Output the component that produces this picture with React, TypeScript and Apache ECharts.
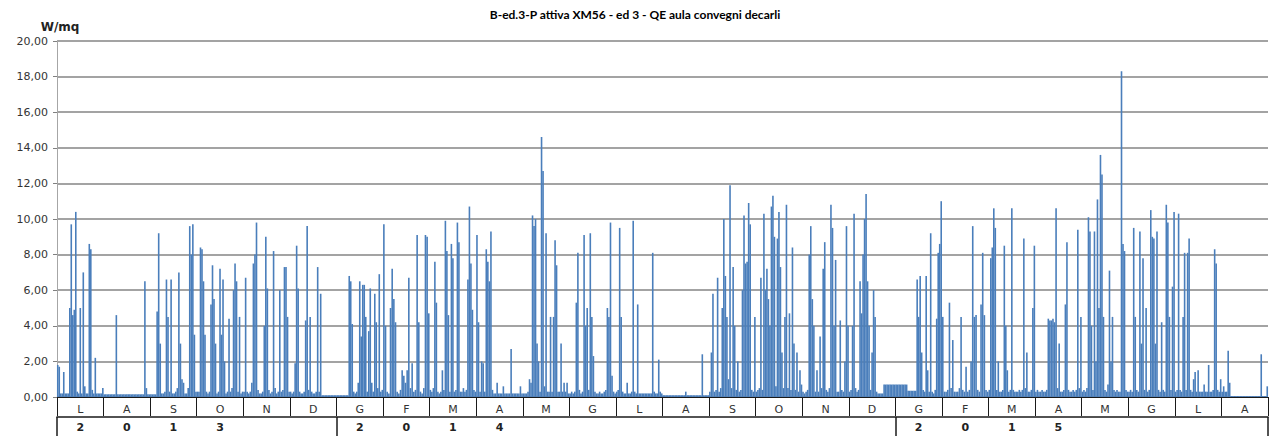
import React, { useEffect, useRef } from "react";
import * as echarts from "echarts";

// Month labels (Jul 2013 .. Aug 2015) and year digits row
const MONTHS = ["L","A","S","O","N","D","G","F","M","A","M","G","L","A","S","O","N","D","G","F","M","A","M","G","L","A"];
const YEAR_DIGITS = ["2","0","1","3","","","2","0","1","4","","","","","","","","","2","0","1","5","","","",""];
const YEAR_STARTS = [0, 6, 18];
const Y_MIN = 0;
const Y_MAX = 20;
const Y_STEP = 2;

// Daily values (W/mq), one array per month
const jul13 = [1.8,1.7,0.2,0.2,1.4,0.2,0.2,0.2,5.0,9.7,4.6,4.9,10.4,0.3,0.2,5.0,0.2,7.0,0.6,0.2,0.2,8.6,8.3,0.4,0.2,2.2,0.2,0.2,0.2,0.2,0.5];
const aug13 = [0.15,0.15,0.15,0.15,0.15,0.15,0.15,0.15,4.6,0.15,0.15,0.15,0.15,0.15,0.15,0.15,0.15,0.15,0.15,0.15,0.15,0.15,0.15,0.15,0.15,0.15,0.15,6.5,0.5,0.15,0.15];
const sep13 = [0.15,0.15,0.15,0.15,4.8,9.2,3.0,0.2,0.2,0.3,6.6,4.5,0.3,6.6,0.2,0.2,0.3,0.5,7.0,3.0,1.0,0.8,0.2,0.2,0.5,9.6,8.0,9.7,3.5,0.3];
const oct13 = [0.3,0.3,8.4,8.3,6.5,3.5,0.3,0.2,0.3,5.2,7.4,5.5,3.0,0.2,0.3,7.2,3.5,6.6,2.0,0.2,0.3,4.4,0.3,0.5,6.0,7.5,6.5,0.3,4.5,0.2,0.3];
const nov13 = [0.3,6.7,0.3,0.2,0.3,0.8,7.5,8.0,9.8,0.4,0.2,0.2,0.3,4.0,9.0,6.1,0.4,0.2,0.3,8.2,0.5,0.2,0.3,6.0,0.3,0.4,7.3,7.3,4.5,0.3];
const dec13 = [0.3,0.2,0.3,1.9,8.5,6.1,0.3,0.2,0.2,0.3,4.3,9.6,0.4,4.5,0.3,0.2,0.2,0.3,7.3,0.3,5.8,0.1,0.1,0.1,0.1,0.1,0.1,0.1,0.1,0.1,0.1];
const jan14 = [0.1,0.1,0.1,0.1,0.1,0.1,0.1,0.1,6.8,6.5,4.1,0.3,0.2,0.3,0.8,6.5,3.4,6.3,6.3,4.5,0.3,3.7,6.1,0.8,0.3,5.8,4.2,0.5,6.9,0.3,0.4];
const feb14 = [9.7,4.0,0.3,0.2,5.0,7.2,5.5,4.2,0.3,0.2,0.4,1.5,1.2,0.8,1.5,6.7,0.5,1.9,0.3,0.4,9.1,4.2,0.3,0.2,0.5,9.1,9.0,4.7];
const mar14 = [0.4,0.3,0.5,7.6,5.3,0.3,0.2,0.3,1.5,0.4,9.9,8.2,4.6,0.3,8.6,7.8,0.3,0.4,9.8,8.7,0.3,0.3,0.5,0.3,0.4,6.6,10.7,7.5,4.9,0.4,0.3];
const apr14 = [9.1,4.2,0.3,2.0,1.9,0.3,8.3,7.6,6.5,9.3,0.4,0.2,0.2,0.8,0.2,0.2,0.2,0.6,0.2,0.2,0.2,0.2,2.7,0.2,0.2,0.2,0.2,0.2,0.6,0.2];
const may14 = [0.2,0.2,0.2,0.3,1.0,0.8,10.2,9.6,10.0,3.0,2.0,0.3,14.6,12.7,0.6,9.2,0.3,0.3,4.5,0.3,4.5,8.8,7.4,0.3,0.3,3.0,0.3,0.8,0.3,0.8,0.2];
const jun14 = [0.2,0.3,0.2,0.3,5.3,8.1,0.4,0.2,0.3,9.1,4.0,5.0,0.4,9.2,4.5,2.3,0.3,0.2,0.2,0.3,0.2,0.2,0.3,0.4,5.0,4.5,9.8,1.2,0.3,0.2];
const jul14 = [0.3,0.4,9.5,4.5,0.3,0.2,0.2,0.8,0.2,0.2,0.3,9.9,0.3,0.2,5.2,0.2,0.2,0.2,0.2,0.2,0.2,0.2,0.2,0.2,8.1,0.3,0.2,0.2,2.1,0.3,0.2];
const aug14 = [0.1,0.1,0.1,0.1,0.1,0.1,0.1,0.1,0.1,0.1,0.1,0.1,0.1,0.1,0.1,0.3,0.1,0.1,0.1,0.1,0.1,0.1,0.1,0.1,0.1,0.1,2.4,0.1,0.1,0.1,0.1];
const sep14 = [0.3,2.5,5.8,0.3,0.4,6.7,0.3,0.5,5.0,10.0,6.8,4.5,1.0,11.9,0.5,7.3,4.0,0.4,2.0,0.3,0.4,6.0,10.2,7.5,7.6,10.9,9.7,0.4,0.3,4.5];
const oct14 = [0.3,0.4,0.5,6.7,0.4,10.3,6.0,7.2,5.5,4.0,10.7,11.3,9.0,0.6,8.9,10.4,7.3,2.5,0.5,4.5,10.8,0.5,4.7,0.4,8.4,3.0,0.4,2.5,0.3,1.5,0.7];
const nov14 = [0.3,0.2,0.3,0.4,8.0,9.6,5.5,4.0,0.3,1.5,0.3,3.4,0.5,7.2,8.7,0.4,0.3,0.5,10.8,9.5,4.0,7.7,0.3,0.3,4.3,0.4,0.3,2.0,9.6,4.0];
const dec14 = [0.3,0.4,4.0,10.3,0.5,0.3,0.4,6.5,4.7,8.0,10.0,11.4,6.5,4.0,0.4,2.5,6.0,4.5,0.3,0.2,0.2,0.2,0.2,0.7,0.7,0.7,0.7,0.7,0.7,0.7,0.7];
const jan15 = [0.7,0.7,0.7,0.7,0.7,0.7,0.7,0.7,0.35,0.35,0.35,0.35,0.35,0.35,6.6,4.5,6.8,2.5,0.4,0.3,6.8,1.5,0.3,9.2,0.3,0.2,0.4,4.4,8.1,8.6,11.0];
const feb15 = [4.5,0.3,0.3,0.4,5.3,0.5,3.2,0.3,0.3,0.3,0.5,4.5,0.4,0.3,1.7,0.3,0.4,2.0,9.6,4.5,4.6,0.4,0.3,5.2,8.1,4.6,0.4,0.3];
const mar15 = [0.4,7.8,8.4,10.6,9.5,0.4,2.0,0.3,0.3,0.4,8.5,4.0,1.5,0.3,0.4,10.6,0.4,0.3,0.3,0.3,0.4,0.3,0.4,8.9,0.5,2.5,0.3,0.3,0.4,5.0,8.5];
const apr15 = [0.3,0.4,0.3,0.3,0.4,0.3,0.3,0.4,4.4,4.3,4.3,4.4,4.2,10.6,0.5,3.0,0.3,0.3,0.4,5.2,8.7,0.4,0.3,0.3,0.4,0.3,0.4,9.4,0.5,4.5];
const may15 = [0.3,0.4,0.3,0.5,10.1,9.3,4.0,0.4,9.3,2.0,11.1,5.0,13.6,12.5,4.5,0.4,0.3,0.7,7.1,2.0,4.5,0.4,0.3,0.4,0.3,0.3,18.3,8.6,8.2,0.4,0.3];
const jun15 = [0.3,0.4,0.3,9.5,4.5,0.4,0.3,9.3,3.0,7.8,0.4,5.0,0.3,0.4,10.5,9.0,8.9,3.0,9.3,0.4,0.3,4.2,0.4,0.3,10.8,9.8,4.5,0.4,6.2,10.4];
const jul15 = [0.3,0.4,10.3,0.4,0.3,4.5,8.1,0.4,8.1,8.9,0.4,0.3,1.0,1.4,0.3,1.5,0.3,0.3,0.3,0.7,0.3,0.3,1.8,0.3,0.3,0.4,8.3,7.5,0.4,0.3,1.0];
const aug15 = [0.3,0.6,0.3,0.3,2.6,0.8,0.05,0.05,0.05,0.05,0.05,0.05,0.05,0.05,0.05,0.05,0.05,0.05,0.05,0.05,0.05,0.05,0.05,0.05,0.05,0.05,2.4,0.05,0.05,0.05,0.6];

const MONTH_DATA = [jul13, aug13, sep13, oct13, nov13, dec13, jan14, feb14, mar14, apr14, may14, jun14, jul14, aug14, sep14, oct14, nov14, dec14, jan15, feb15, mar15, apr15, may15, jun15, jul15, aug15];

export default function App() {
  const ref = useRef<HTMLDivElement>(null);
  useEffect(() => {
    if (!ref.current) return;
    const chart = echarts.init(ref.current, null, { renderer: "svg" });
    const points: [number, number][] = [];
    MONTH_DATA.forEach((arr, m) => {
      arr.forEach((v, i) => {
        points.push([m + (i + 0.5) / arr.length, v]);
      });
    });
    const labelFont = "DejaVu Sans";
    chart.setOption({
      animation: false,
      backgroundColor: "#ffffff",
      title: {
        text: "B-ed.3-P attiva XM56 - ed 3 - QE aula convegni decarli",
        left: 630,
        textAlign: "center",
        top: 3,
        textStyle: { fontFamily: "Lato", fontWeight: "bold", fontSize: 12, color: "#000" },
      },
      grid: { left: 57, top: 41, width: 1211, height: 356, containLabel: false },
      xAxis: [
        { type: "value", min: 0, max: MONTHS.length, show: false },
        {
          type: "category",
          data: MONTHS,
          position: "bottom",
          axisLine: { show: true, lineStyle: { color: "#1a1a1a", width: 1 } },
          axisTick: { show: true, length: 19, interval: 0, lineStyle: { color: "#1a1a1a", width: 1 } },
          axisLabel: { interval: 0, margin: 7, fontSize: 11, color: "#333", fontFamily: labelFont },
          splitLine: { show: false },
        },
        {
          type: "category",
          data: YEAR_DIGITS,
          position: "bottom",
          offset: 20,
          axisLine: { show: true, lineStyle: { color: "#1a1a1a", width: 1.5 } },
          axisTick: {
            show: true,
            length: 19,
            interval: (i: number) => YEAR_STARTS.includes(i),
            lineStyle: { color: "#1a1a1a", width: 1.5 },
          },
          axisLabel: { interval: 0, margin: 5, fontSize: 11, fontWeight: "bold", color: "#222", fontFamily: labelFont },
          splitLine: { show: false },
        },
      ],
      yAxis: {
        type: "value",
        min: Y_MIN,
        max: Y_MAX,
        interval: Y_STEP,
        name: "W/mq",
        nameLocation: "end",
        nameGap: 8,
        nameTextStyle: { fontFamily: labelFont, fontWeight: "bold", fontSize: 12, color: "#222", align: "center", padding: [0, 0, 0, 6] },
        axisLine: { show: true, lineStyle: { color: "#a6a6a6", width: 1 } },
        axisTick: { show: true, length: 4, lineStyle: { color: "#808080" } },
        axisLabel: {
          fontFamily: labelFont,
          fontSize: 11,
          color: "#333",
          margin: 9,
          formatter: (v: number) => v.toFixed(2).replace(".", ","),
        },
        splitLine: { show: true, lineStyle: { color: "#858585", width: 1.5 } },
      },
      series: [
        {
          type: "bar",
          xAxisIndex: 0,
          data: points,
          barWidth: 1.6,
          itemStyle: { color: "#4a7ebb" },
          silent: true,
        },
      ],
    });
    return () => chart.dispose();
  }, []);
  return (
    <div
      ref={ref}
      style={{ position: "fixed", left: 0, top: 0, width: 1271, height: 436, background: "#fff" }}
    />
  );
}
